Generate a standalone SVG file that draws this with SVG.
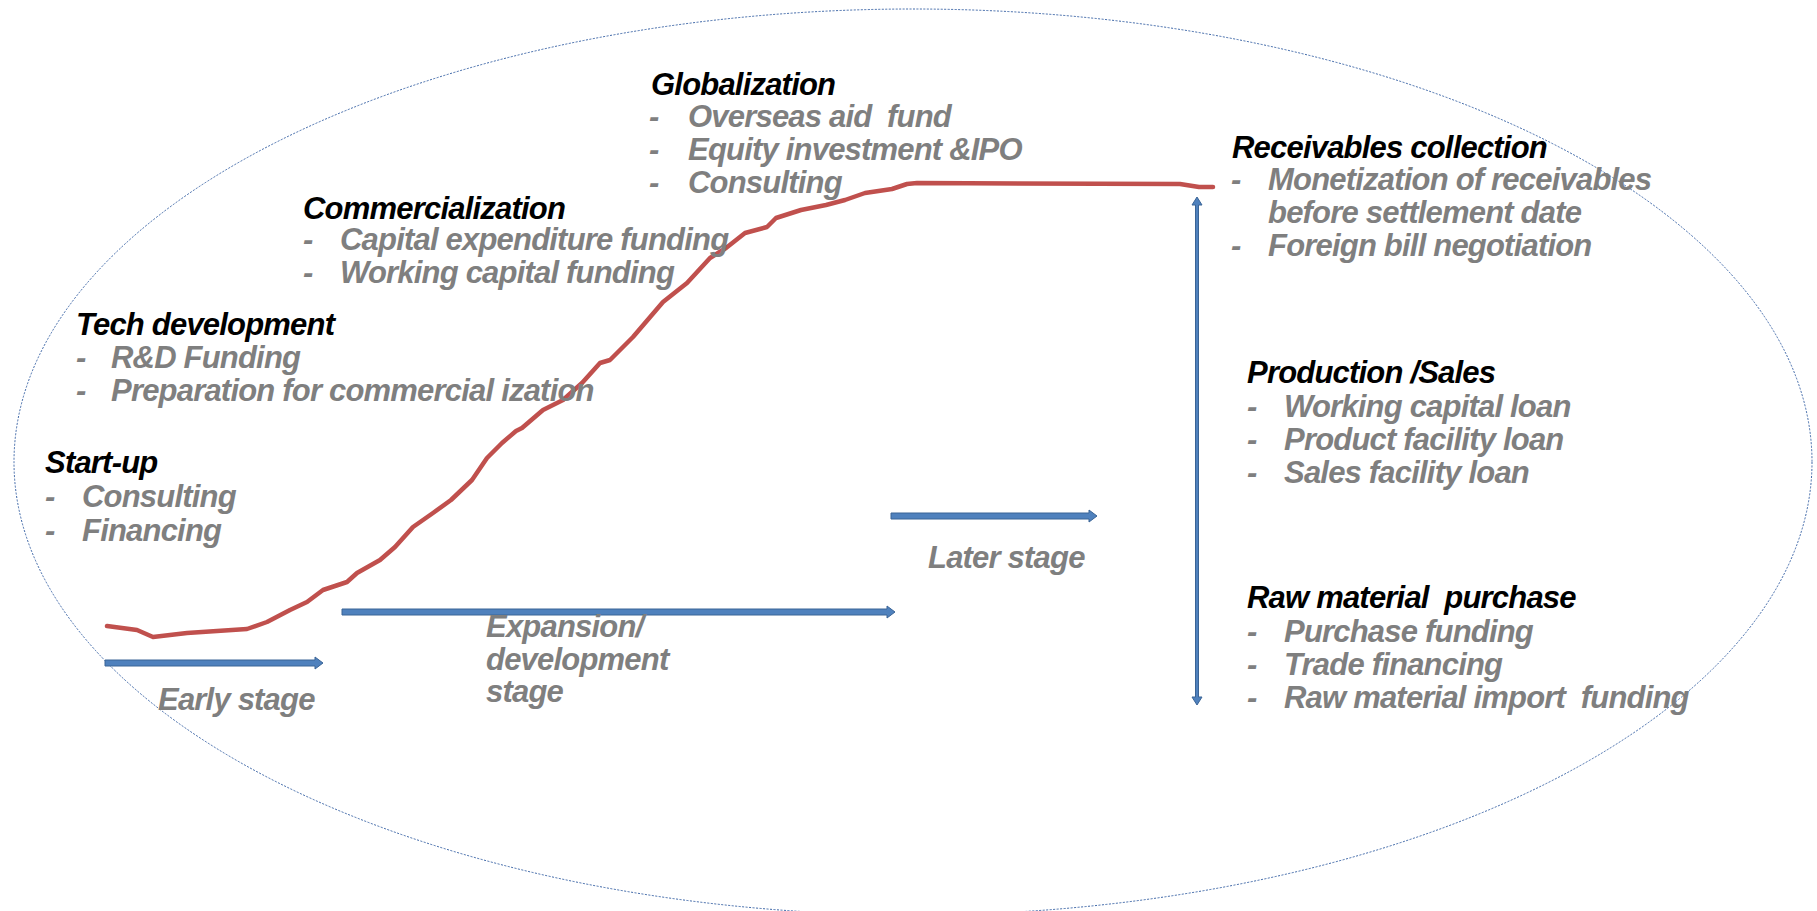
<svg xmlns="http://www.w3.org/2000/svg" width="1817" height="911" viewBox="0 0 1817 911">
  <defs>
    <style>
      text { font-family: "Liberation Sans", Arial, sans-serif; font-size: 31px; font-weight: bold; font-style: italic; letter-spacing: -0.8px; white-space: pre; }
      .head { fill: #000000; }
      .item { fill: #7f7f7f; }
      .frame { fill: none; stroke: #3f68a8; stroke-width: 1; stroke-dasharray: 2 1.5; }
      .curve { fill: none; stroke: #c0504d; stroke-width: 4.5; stroke-linejoin: round; stroke-linecap: round; }
      .arrow { fill: #4f81bd; stroke: #3a6496; stroke-width: 1; }
    </style>
  </defs>

  <rect width="1817" height="911" fill="#ffffff"/>

  <!-- outer boundary -->
  <ellipse class="frame" cx="913" cy="462" rx="899" ry="453"/>

  <!-- growth curve -->
  <path class="curve" d="M107,626 L137,630 L153,637 L187,633 L247,629 L267,622 L290,610 L307,602 L323,590 L347,582 L357,573 L380,560 L395,547 L413,527 L433,513 L451,500 L472,480 L487,458 L502,443 L516,431 L522,428 L543,410 L563,400 L582,383 L600,363 L610,360 L633,337 L663,302 L687,283 L710,258 L726,248 L745,233 L767,227 L776,218 L801,210 L826,205 L845,200 L865,193 L892,189 L907,184 L917,183 L1180,184 L1199,187 L1213,187"/>

  <g id="connectors">
    <!-- early stage -->
    <path class="arrow" d="M105,660 L315,660 L315,657 L323,663 L315,669 L315,666 L105,666 Z"/>
    <!-- expansion / development stage -->
    <path class="arrow" d="M342,609 L887,609 L887,606 L895,612 L887,618 L887,615 L342,615 Z"/>
    <!-- later stage -->
    <path class="arrow" d="M891,513 L1089,513 L1089,510 L1097,516 L1089,522 L1089,519 L891,519 Z"/>
    <!-- operating cycle, double-headed -->
    <path class="arrow" d="M1197,197 L1202,205 L1198.5,205 L1198.5,697 L1202,697 L1197,705 L1192,697 L1195.5,697 L1195.5,205 L1192,205 Z"/>
  </g>

  <g id="startup">
    <text class="head" x="45" y="473">Start-up</text>
    <text class="item" x="45" y="507">-</text><text class="item" x="82" y="507">Consulting</text>
    <text class="item" x="45" y="541">-</text><text class="item" x="82" y="541">Financing</text>
  </g>

  <g id="tech-development">
    <text class="head" x="76" y="335">Tech development</text>
    <text class="item" x="76" y="368">-</text><text class="item" x="111" y="368">R&amp;D Funding</text>
    <text class="item" x="76" y="401">-</text><text class="item" x="111" y="401">Preparation for commercial ization</text>
  </g>

  <g id="commercialization">
    <text class="head" x="303" y="219">Commercialization</text>
    <text class="item" x="303" y="250">-</text><text class="item" x="340" y="250">Capital expenditure funding</text>
    <text class="item" x="303" y="283">-</text><text class="item" x="340" y="283">Working capital funding</text>
  </g>

  <g id="globalization">
    <text class="head" x="651" y="95">Globalization</text>
    <text class="item" x="649" y="127">-</text><text class="item" x="688" y="127">Overseas aid  fund</text>
    <text class="item" x="649" y="160">-</text><text class="item" x="688" y="160">Equity investment &amp;IPO</text>
    <text class="item" x="649" y="193">-</text><text class="item" x="688" y="193">Consulting</text>
  </g>

  <g id="receivables">
    <text class="head" x="1232" y="158">Receivables collection</text>
    <text class="item" x="1231" y="190">-</text><text class="item" x="1268" y="190">Monetization of receivables</text>
    <text class="item" x="1268" y="223">before settlement date</text>
    <text class="item" x="1231" y="256">-</text><text class="item" x="1268" y="256">Foreign bill negotiation</text>
  </g>

  <g id="production-sales">
    <text class="head" x="1247" y="383">Production /Sales</text>
    <text class="item" x="1247" y="417">-</text><text class="item" x="1284" y="417">Working capital loan</text>
    <text class="item" x="1247" y="450">-</text><text class="item" x="1284" y="450">Product facility loan</text>
    <text class="item" x="1247" y="483">-</text><text class="item" x="1284" y="483">Sales facility loan</text>
  </g>

  <g id="raw-material">
    <text class="head" x="1247" y="608">Raw material  purchase</text>
    <text class="item" x="1247" y="642">-</text><text class="item" x="1284" y="642">Purchase funding</text>
    <text class="item" x="1247" y="675">-</text><text class="item" x="1284" y="675">Trade financing</text>
    <text class="item" x="1247" y="708">-</text><text class="item" x="1284" y="708">Raw material import  funding</text>
  </g>

  <g id="stage-early">
    <text class="item" x="158" y="710">Early stage</text>
  </g>
  <g id="stage-expansion">
    <text class="item" x="486" y="637">Expansion/</text>
    <text class="item" x="486" y="670">development</text>
    <text class="item" x="486" y="702">stage</text>
  </g>
  <g id="stage-later">
    <text class="item" x="928" y="568">Later stage</text>
  </g>
</svg>
